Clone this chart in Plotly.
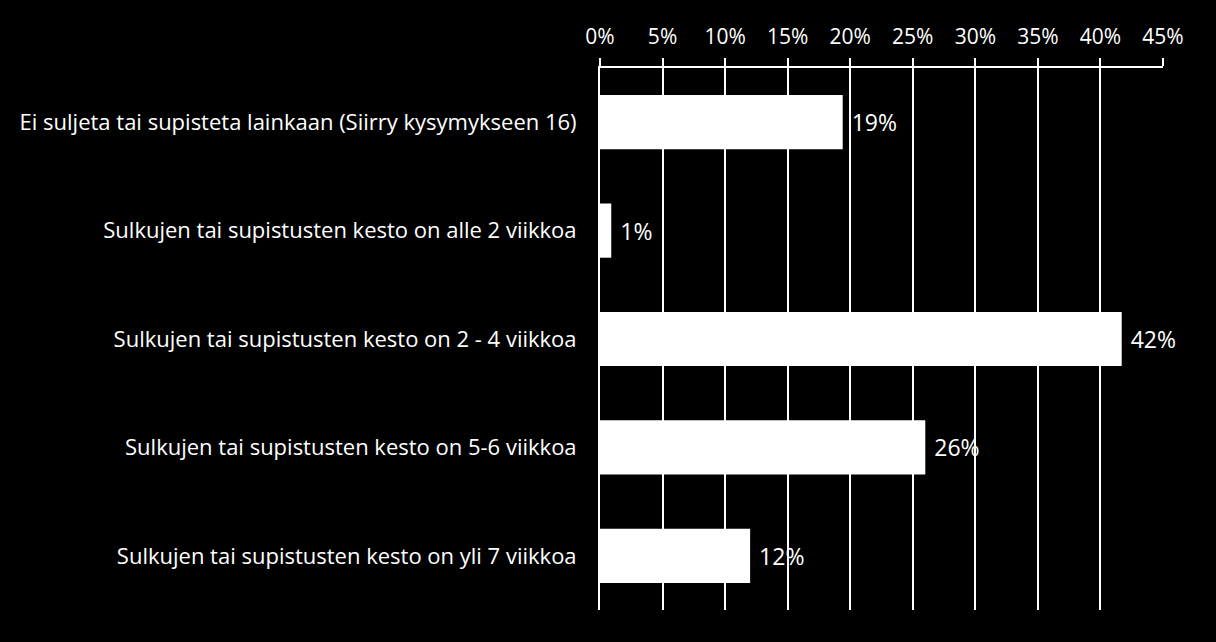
import plotly.graph_objects as go

categories = [
    "Ei suljeta tai supisteta lainkaan (Siirry kysymykseen 16)",
    "Sulkujen tai supistusten kesto on alle 2 viikkoa",
    "Sulkujen tai supistusten kesto on 2 - 4 viikkoa",
    "Sulkujen tai supistusten kesto on 5-6 viikkoa",
    "Sulkujen tai supistusten kesto on yli 7 viikkoa",
]
values = [19.4, 0.9, 41.7, 26.0, 12.0]
tick_vals = [0, 5, 10, 15, 20, 25, 30, 35, 40, 45]
tick_text = [f"{v}%" for v in tick_vals]

font_name = "Open Sans"

fig = go.Figure(go.Bar(
    x=values,
    y=categories,
    orientation="h",
    marker=dict(color="white", line=dict(width=0)),
    texttemplate="\u00a0%{x:.0f}%",
    textposition="outside",
    textfont=dict(color="white", size=23, family=font_name),
    cliponaxis=False,
))

fig.update_layout(
    width=1216, height=642,
    paper_bgcolor="black", plot_bgcolor="black",
    margin=dict(l=600, r=53, t=68, b=32),
    bargap=0.5,
    showlegend=False,
    font=dict(family=font_name, color="white", size=20),
)

fig.update_xaxes(
    side="top", range=[0, 45], tickvals=tick_vals, ticktext=tick_text,
    showgrid=True, gridcolor="white", gridwidth=2,
    showline=True, linecolor="white", linewidth=2,
    ticks="outside", ticklen=8, tickcolor="white", tickwidth=2,
    zeroline=False, ticklabelstandoff=6,
    tickfont=dict(size=21, color="white"),
)
fig.update_yaxes(
    autorange="reversed", showgrid=False, zeroline=False,
    showline=True, linecolor="white", linewidth=2,
    ticks="", ticklabelstandoff=17,
    tickfont=dict(size=22, color="white"),
)

fig.write_html(
    "out.html",
    config={"displayModeBar": False},
    post_script="document.body.style.margin='0';document.body.style.background='black';",
)
